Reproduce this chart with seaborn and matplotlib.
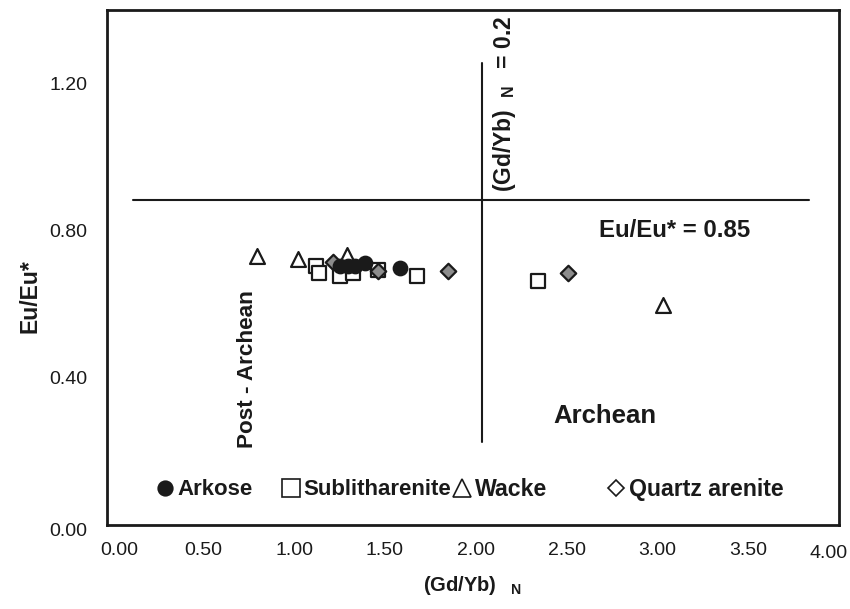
import matplotlib
matplotlib.use("Agg")
import matplotlib.pyplot as plt
from matplotlib.lines import Line2D
from matplotlib.transforms import ScaledTranslation
import seaborn as sns
import pandas as pd

# ---- data ----
arkose_x = [1.253, 1.298, 1.335, 1.390, 1.582]
arkose_y = [0.703, 0.703, 0.703, 0.712, 0.698]

sublith_x = [1.121, 1.139, 1.253, 1.326, 1.463, 1.674, 2.342]
sublith_y = [0.704, 0.685, 0.676, 0.685, 0.694, 0.676, 0.662]

wacke_x = [0.795, 1.024, 1.290, 3.029]
wacke_y = [0.730, 0.723, 0.734, 0.599]

quartz_x = [1.216, 1.462, 1.848, 2.507]
quartz_y = [0.716, 0.690, 0.691, 0.685]

# boundary lines
hline_y = [0.884, 0.884]
hline_x = [0.115, 3.835]
vline_x = [2.033, 2.033]
vline_y = [0.225, 1.255]

x_ticks = [0.0, 0.5, 1.0, 1.5, 2.0, 2.5, 3.0, 3.5, 4.0]
x_ticklabels = ["0.00", "0.50", "1.00", "1.50", "2.00", "2.50", "3.00", "3.50", "4.00"]
y_ticks = [0.0, 0.4, 0.8, 1.2]
y_ticklabels = ["0.00", "0.40", "0.80", "1.20"]

groups = ["Sublitharenite", "Wacke", "Quartz arenite", "Arkose"]
rows = []
for name, xs, ys in [("Arkose", arkose_x, arkose_y),
                     ("Sublitharenite", sublith_x, sublith_y),
                     ("Wacke", wacke_x, wacke_y),
                     ("Quartz arenite", quartz_x, quartz_y)]:
    for a, b in zip(xs, ys):
        rows.append({"x": a, "y": b, "type": name})
df = pd.DataFrame(rows)

sns.set_style("white")
plt.rcParams["font.family"] = ["Liberation Sans", "DejaVu Sans"]
plt.rcParams["mathtext.fontset"] = "custom"
plt.rcParams["mathtext.rm"] = "Liberation Sans:bold"
plt.rcParams["mathtext.bf"] = "Liberation Sans:bold"
plt.rcParams["mathtext.it"] = "Liberation Sans:bold"

fig = plt.figure(figsize=(8.5, 6.09), dpi=100)
ax = fig.add_axes([107/850, 1-525/609, (839-107)/850, (525-10)/609])

ink = "#1a1a1a"
style = {
    "Arkose": dict(marker="o", fc=ink, s=95),
    "Sublitharenite": dict(marker="s", fc="white", s=95),
    "Wacke": dict(marker="^", fc="white", s=115),
    "Quartz arenite": dict(marker="D", fc="#8c8c8c", s=62),
}

# reference lines
sns.lineplot(x=hline_x, y=hline_y, ax=ax, color=ink, lw=1.5, zorder=2)
sns.lineplot(x=vline_x, y=vline_y, ax=ax, color=ink, lw=1.5, zorder=2,
             orient="y")

for i, g in enumerate(groups):
    sub = df[df["type"] == g]
    st = style[g]
    sns.scatterplot(data=sub, x="x", y="y", ax=ax, marker=st["marker"],
                    s=st["s"], color=st["fc"], edgecolor=ink, linewidth=1.6,
                    zorder=3 + i, legend=False)

ax.set_xlim(-0.03, 4.0)
ax.set_ylim(0.0, 1.40)
ax.set_xticks(x_ticks)
ax.set_xticklabels(x_ticklabels)
ax.set_yticks(y_ticks)
ax.set_yticklabels(y_ticklabels)
ax.tick_params(axis="both", direction="in", length=11, width=1.5,
               color=ink, labelsize=14, labelcolor=ink)
ax.tick_params(axis="x", pad=12)
ax.tick_params(axis="y", pad=14)
for t in (ax.xaxis.get_major_ticks()[0], ax.xaxis.get_major_ticks()[-1],
          ax.yaxis.get_major_ticks()[0]):
    t.tick1line.set_visible(False)


def nudge(lbl, dx_px, dy_px):
    lbl.set_transform(lbl.get_transform() +
                      ScaledTranslation(dx_px/100, dy_px/100, fig.dpi_scale_trans))


# end labels sit slightly off their ticks, as in the reference
nudge(ax.get_xticklabels()[-1], -10, -3)
nudge(ax.get_xticklabels()[0], 7, 0)
nudge(ax.get_yticklabels()[0], 0, -5)

for sp in ax.spines.values():
    sp.set_visible(True)
    sp.set_linewidth(2.0)
    sp.set_color(ink)

ax.set_xlabel(r"(Gd/Yb)$\;\;\;{}_{\mathregular{N}}$", fontsize=14.5,
              fontweight="bold", color=ink, labelpad=9)
ax.set_ylabel("Eu/Eu*", fontsize=16.5, fontweight="bold", color=ink)
ax.yaxis.set_label_coords(-0.090, 0.445)

ax.text(2.16, 0.905, r"(Gd/Yb)$\;\;{}_{\mathregular{N}}\;\;$ = 0.2", rotation=90,
        ha="center", va="bottom", fontsize=16.5, fontweight="bold", color=ink)
ax.text(2.681, 0.800, "Eu/Eu* = 0.85", ha="left", va="center",
        fontsize=17.3, fontweight="bold", color=ink)
ax.text(0.742, 0.424, "Post - Archean", rotation=90, ha="center", va="center",
        fontsize=16.2, fontweight="bold", color=ink)
ax.text(2.709, 0.295, "Archean", ha="center", va="center",
        fontsize=18.5, fontweight="bold", color=ink)

h_ark = Line2D([], [], ls="none", marker="o", ms=10.5, mfc=ink, mec=ink, mew=1.2)
h_sub = Line2D([], [], ls="none", marker="s", ms=12.5, mfc="white", mec=ink, mew=1.2)
h_wac = Line2D([], [], ls="none", marker="^", ms=12.5, mfc="white", mec=ink, mew=1.2)
h_qtz = Line2D([], [], ls="none", marker="D", ms=8.5, mfc="white", mec=ink, mew=1.2)
leg_kw = dict(loc="center left", ncol=2, frameon=False, borderpad=0,
              borderaxespad=0, handlelength=0.9, handletextpad=0.1)
leg1 = ax.legend([h_ark, h_sub], ["Arkose", "Sublitharenite"],
                 bbox_to_anchor=(0.0656, 0.068), columnspacing=1.3,
                 prop={"weight": "bold", "size": 16}, **leg_kw)
ax.add_artist(leg1)
leg2 = ax.legend([h_wac, h_qtz], ["Wacke", "Quartz arenite"],
                 bbox_to_anchor=(0.4713, 0.068), columnspacing=2.5,
                 prop={"weight": "bold", "size": 16.7}, **leg_kw)
for lg in (leg1, leg2):
    for t in lg.get_texts():
        t.set_color(ink)

fig.savefig("out.png", dpi=100)
